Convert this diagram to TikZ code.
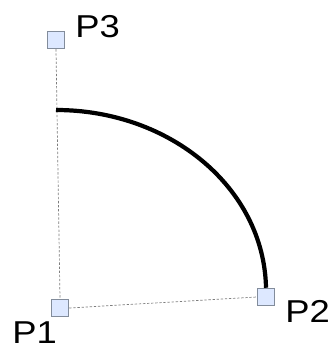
\documentclass[tikz,border=0pt]{standalone}
\usepackage{fontspec}
\setmainfont{Liberation Sans}
\usepackage{xcolor}
\definecolor{hfill}{RGB}{221,232,255}
\definecolor{hdraw}{RGB}{130,140,155}
\definecolor{gline}{RGB}{125,125,125}

\begin{document}
\begin{tikzpicture}[x=0.03cm,y=-0.03cm,
    handle/.style={draw=hdraw,fill=hfill,line width=0.7pt,
                   minimum size=0.53cm,inner sep=0pt},
    lbl/.style={anchor=base west,inner sep=0pt,
                font=\fontsize{27}{27}\selectfont,xscale=1.15,transform shape},
    guide/.style={gline,line width=0.6pt,dash pattern=on 2pt off 1.5pt},
    arcline/.style={black,line width=3.6pt}]
    \useasboundingbox (0,0) rectangle (328,349);
    \node[handle] (p3) at (56,40) {};
    \node[handle] (p1) at (60,308) {};
    \node[handle] (p2) at (266,297) {};
    \coordinate (s) at (56,110);
    \draw[guide] (p3.south) -- (p1.north);
    \draw[guide] (p1.east) -- (p2.west);
    \draw[arcline] (s) .. controls (170,110) and (264,188) .. (p2.north);
    \node[lbl] (l3) at (75,38) {P3};
    \node[lbl] (l1) at (12,343) {P1};
    \node[lbl] (l2) at (285,322) {P2};
\end{tikzpicture}
\end{document}
